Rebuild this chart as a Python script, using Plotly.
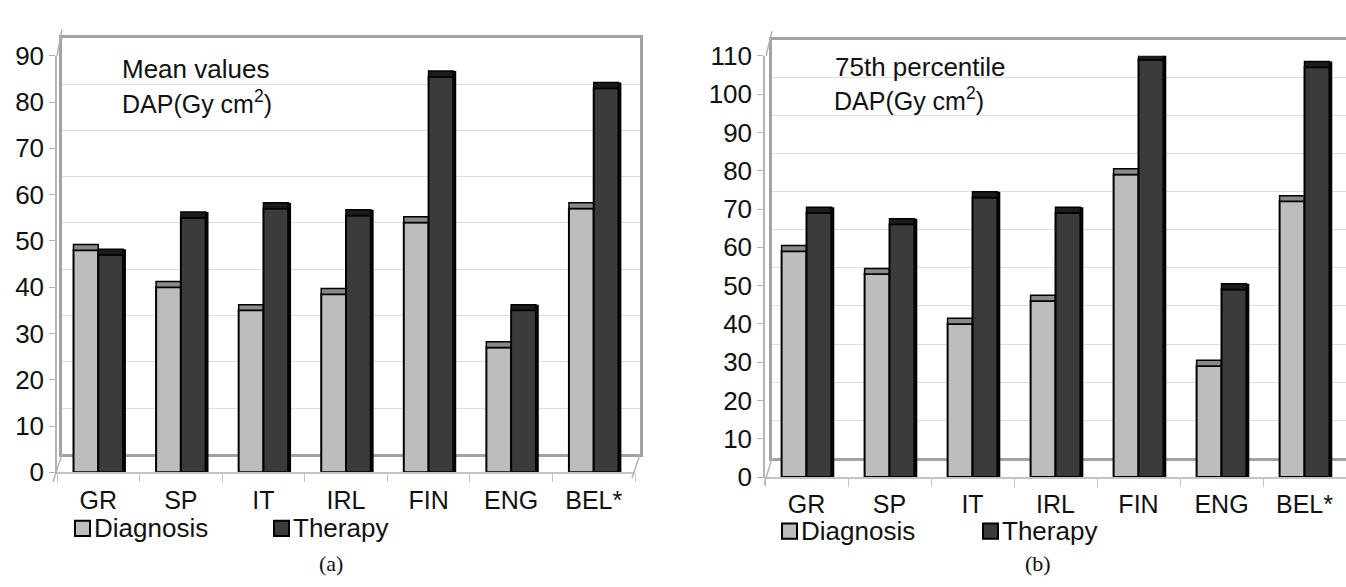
import plotly.graph_objects as go

W, H = 1346, 587

# ---------------- data ----------------
categories = ["GR", "SP", "IT", "IRL", "FIN", "ENG", "BEL*"]
mean_diagnosis = [48, 40, 35, 38.5, 54, 27, 57]
mean_therapy = [47, 55, 57, 55.5, 85.5, 35, 83]
p75_diagnosis = [59, 53, 40, 46, 79, 29, 72]
p75_therapy = [69, 66, 73, 69, 109, 49, 107]
mean_ticks = list(range(0, 91, 10))
p75_ticks = list(range(0, 111, 10))
series_names = ["Diagnosis", "Therapy"]
panel_titles = ["Mean values", "75th percentile"]
panel_units = "DAP(Gy cm<sup>2</sup>)"
captions = ["(a)", "(b)"]

# ---------------- style ----------------
FONT = "Liberation Sans, Arial, sans-serif"
DIAG_FRONT, DIAG_TOP = "#bdbdbd", "#8a8a8a"
THER_FRONT, THER_TOP = "#3b3b3b", "#1c1c1c"
WALL_LINE, GRID, FRONT_LINE = "#a2a2a2", "#dedede", "#c4c4c4"
BAR_W = 0.30          # category units
TOP_PX = 6            # depth of bar top face in pixels


def px(x):
    return x / W


def py(y):
    return 1 - y / H


panels = [
    dict(diag=mean_diagnosis, ther=mean_therapy, ticks=mean_ticks, ymax=90,
         wall=(62, 640, 463, 24), front=(57, 635, 482, 43), mirror_right=True,
         title=panel_titles[0], title_xy=(120, 57), units_xy=(120, 92),
         leg=(75, 541, 274), caption=captions[0], cap_x=331, standoff=5,
         diag_tl=((57, 43), (62, 15)), diag_bl=((53, 492), (62, 463)),
         diag_br=((632, 488), (640, 463))),
    dict(diag=p75_diagnosis, ther=p75_therapy, ticks=p75_ticks, ymax=110,
         wall=(772, 1346, 467, 26), front=(765, 1346, 487, 43), mirror_right=False,
         title=panel_titles[1], title_xy=(833, 55), units_xy=(832, 89),
         leg=(782, 544, 983), caption=captions[1], cap_x=1038, standoff=4,
         diag_tl=((766, 43), (772, 17)), diag_bl=((764, 495), (772, 467)),
         diag_br=None),
]

fig = go.Figure()
layout = dict(width=W, height=H, margin=dict(l=0, r=0, t=0, b=0, pad=0),
              paper_bgcolor="white", plot_bgcolor="rgba(0,0,0,0)",
              showlegend=False, barmode="overlay",
              font=dict(family=FONT, color="#111"))
shapes, annotations = [], []

n = len(panels)
for i, p in enumerate(panels):
    # wall axes: ids 1..n ; front axes: ids n+1..2n (drawn above walls)
    wid = i + 1
    fid = n + i + 1
    wx = "x" if wid == 1 else f"x{wid}"
    wy = "y" if wid == 1 else f"y{wid}"
    fx, fy = f"x{fid}", f"y{fid}"
    wl, wr, wb, wt = p["wall"]
    fl, fr, fb, ft = p["front"]
    ymax = p["ymax"]

    # back wall (grid + border)
    fig.add_trace(go.Scatter(x=[0.5], y=[0], mode="markers",
                             marker=dict(opacity=0, size=1), xaxis=wx, yaxis=wy,
                             showlegend=False, hoverinfo="skip"))
    layout["xaxis" if wid == 1 else f"xaxis{wid}"] = dict(
        domain=[px(wl), px(wr)], anchor=wy, range=[0, 1], showgrid=False,
        zeroline=False, showticklabels=False, ticks="", showline=True,
        mirror=True, linecolor=WALL_LINE, linewidth=2.5)
    layout["yaxis" if wid == 1 else f"yaxis{wid}"] = dict(
        domain=[py(wb), py(wt)], anchor=wx, range=[0, ymax], showgrid=True,
        gridcolor=GRID, gridwidth=1, tickvals=p["ticks"], zeroline=False,
        showticklabels=False, ticks="", showline=True,
        mirror=p["mirror_right"], linecolor=WALL_LINE, linewidth=2.5)

    # front plane: bars + axes
    ppu = (fb - ft) / ymax            # pixels per unit
    top_units = TOP_PX / ppu
    for vals, off, front_c, top_c, name in (
            (p["diag"], -BAR_W, DIAG_FRONT, DIAG_TOP, series_names[0]),
            (p["ther"], 0.0, THER_FRONT, THER_TOP, series_names[1])):
        fig.add_trace(go.Bar(x=categories, y=vals, width=BAR_W, offset=off,
                             name=name,
                             marker=dict(color=front_c,
                                         line=dict(color="black", width=2)),
                             xaxis=fx, yaxis=fy, showlegend=False))
        fig.add_trace(go.Bar(x=categories, y=[top_units] * len(vals), base=vals,
                             width=BAR_W, offset=off,
                             marker=dict(color=top_c,
                                         line=dict(color="black", width=1.5)),
                             xaxis=fx, yaxis=fy, showlegend=False,
                             hoverinfo="skip"))
    # dark right side face of the therapy bar
    fig.add_trace(go.Bar(x=categories, y=[v + top_units for v in p["ther"]],
                         width=0.035, offset=BAR_W,
                         marker=dict(color="#050505", line=dict(width=0)),
                         xaxis=fx, yaxis=fy, showlegend=False, hoverinfo="skip"))

    layout[f"xaxis{fid}"] = dict(
        domain=[px(fl), px(fr)], anchor=fy, type="category",
        range=[-0.5, len(categories) - 0.5], showgrid=False, zeroline=False,
        showline=True, linecolor=FRONT_LINE, linewidth=1.5, ticks="outside",
        tickson="boundaries", ticklen=8, tickcolor=FRONT_LINE,
        ticklabelstandoff=p["standoff"],
        tickfont=dict(size=25, family=FONT, color="#111"))
    layout[f"yaxis{fid}"] = dict(
        domain=[py(fb), py(ft)], anchor=fx, range=[0, ymax],
        tickvals=p["ticks"], showgrid=False, zeroline=False, showline=True,
        linecolor="#b4b4b4", linewidth=1.5, ticks="outside", ticklen=6,
        tickcolor="#b4b4b4", tickfont=dict(size=26, family=FONT, color="#111"))

    # 3-D box corner edges
    for seg in (p["diag_tl"], p["diag_bl"], p["diag_br"]):
        if seg is None:
            continue
        (x0, y0), (x1, y1) = seg
        shapes.append(dict(type="line", xref="paper", yref="paper",
                           x0=px(x0), y0=py(y0), x1=px(x1), y1=py(y1),
                           line=dict(color="#b4b4b4", width=1.5)))

    # panel texts
    tx, ty = p["title_xy"]
    annotations.append(dict(text=p["title"], x=px(tx), y=py(ty), xref="paper",
                            yref="paper", xanchor="left", yanchor="middle",
                            showarrow=False, font=dict(size=26, family=FONT)))
    ux, uy = p["units_xy"]
    annotations.append(dict(text=panel_units, x=px(ux), y=py(uy), xref="paper",
                            yref="paper", xanchor="left", yanchor="middle",
                            showarrow=False, font=dict(size=25, family=FONT)))

    # legend
    lx, ly, lx2 = p["leg"]
    for sx, name, col in ((lx, series_names[0], DIAG_FRONT),
                          (lx2, series_names[1], THER_FRONT)):
        shapes.append(dict(type="rect", xref="paper", yref="paper",
                           x0=px(sx), x1=px(sx + 15), y0=py(ly + 8), y1=py(ly - 8),
                           fillcolor=col, line=dict(color="black", width=2)))
        annotations.append(dict(text=name, x=px(sx + 18), y=py(ly), xref="paper",
                                yref="paper", xanchor="left", yanchor="middle",
                                showarrow=False, borderpad=0,
                                font=dict(size=26, family=FONT)))

    annotations.append(dict(text=p["caption"], x=px(p["cap_x"]), y=py(578),
                            xref="paper", yref="paper", xanchor="center",
                            yanchor="middle", showarrow=False,
                            font=dict(size=22, family="Liberation Serif, Times New Roman, serif")))

layout["shapes"] = shapes
layout["annotations"] = annotations
fig.update_layout(**layout)
fig.write_html("out.html",
               post_script="document.body.style.margin='0';")
